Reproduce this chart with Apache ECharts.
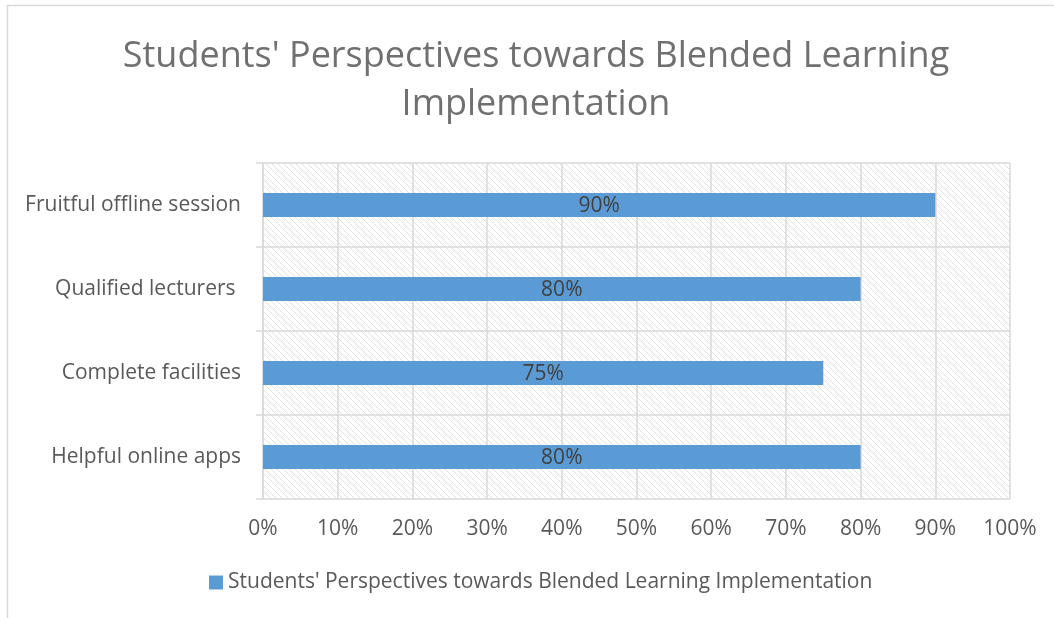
<!DOCTYPE html>
<html><head><meta charset="utf-8">
<script src="https://cdn.jsdelivr.net/npm/echarts@6/dist/echarts.min.js"></script>
<style>html,body{margin:0;padding:0;background:#fff}#c{width:1054px;height:618px}</style>
</head><body><div id="c"></div>
<script>
const categories = ["Helpful online apps", "Complete facilities", "Qualified lecturers ", "Fruitful offline session"];
const values = [80, 75, 80, 90];
const xTicks = [0, 10, 20, 30, 40, 50, 60, 70, 80, 90, 100];
const seriesName = "Students' Perspectives towards Blended Learning Implementation";
const titleText = "Students' Perspectives towards Blended Learning\nImplementation";

const FONT = '"Open Sans"';
const pc = document.createElement('canvas');
pc.width = 6; pc.height = 6;
const px = pc.getContext('2d');
px.fillStyle = '#ffffff'; px.fillRect(0,0,6,6);
px.strokeStyle = '#e0e0e0'; px.lineWidth = 1;
px.beginPath();
for (let k = -6; k <= 12; k += 6) { px.moveTo(k, 0); px.lineTo(k + 6, 6); }
px.stroke();

const chart = echarts.init(document.getElementById('c'), null, {renderer: 'canvas'});
chart.setOption({
  animation: false,
  graphic: [{type: 'rect', shape: {x: 7.5, y: 5.5, width: 1100, height: 700}, style: {fill: 'none', stroke: '#d9d9d9', lineWidth: 1.5}}],
  title: {text: titleText, left: 531, textAlign: 'center', top: 28, textStyle: {fontFamily: FONT, fontSize: 36, fontWeight: 'normal', color: '#707070', lineHeight: 48}},
  legend: {bottom: 20, left: 204, itemWidth: 14, itemHeight: 14, itemGap: 6, icon: 'rect',
    textStyle: {fontFamily: FONT, fontSize: 21, color: '#595959'}},
  grid: {left: 263, right: 44, top: 163, bottom: 119, show: true, backgroundColor: {image: pc, repeat: 'repeat'}, borderWidth: 0},
  xAxis: {type: 'value', min: 0, max: 100, interval: 10,
    axisLine: {show: false}, axisTick: {show: false},
    splitLine: {show: true, lineStyle: {color: '#d9d9d9', width: 1.5}},
    axisLabel: {formatter: v => v + '%', fontFamily: FONT, fontSize: 21, color: '#595959', margin: 20}},
  yAxis: {type: 'category', data: categories,
    axisLine: {show: true, lineStyle: {color: '#d9d9d9', width: 1.5}},
    axisTick: {show: true, length: 7, lineStyle: {color: '#d9d9d9', width: 1.5}},
    splitLine: {show: true, lineStyle: {color: '#d9d9d9', width: 1.5}},
    axisLabel: {fontFamily: FONT, fontSize: 21, color: '#595959', margin: 22}},
  series: [{name: seriesName, type: 'bar', data: values, barWidth: 24,
    itemStyle: {color: '#5b9bd5'},
    label: {show: true, position: 'inside', offset: [0, 1], formatter: p => p.value + '%', fontFamily: FONT, fontSize: 21, color: '#404040'}}]
});
</script></body></html>
